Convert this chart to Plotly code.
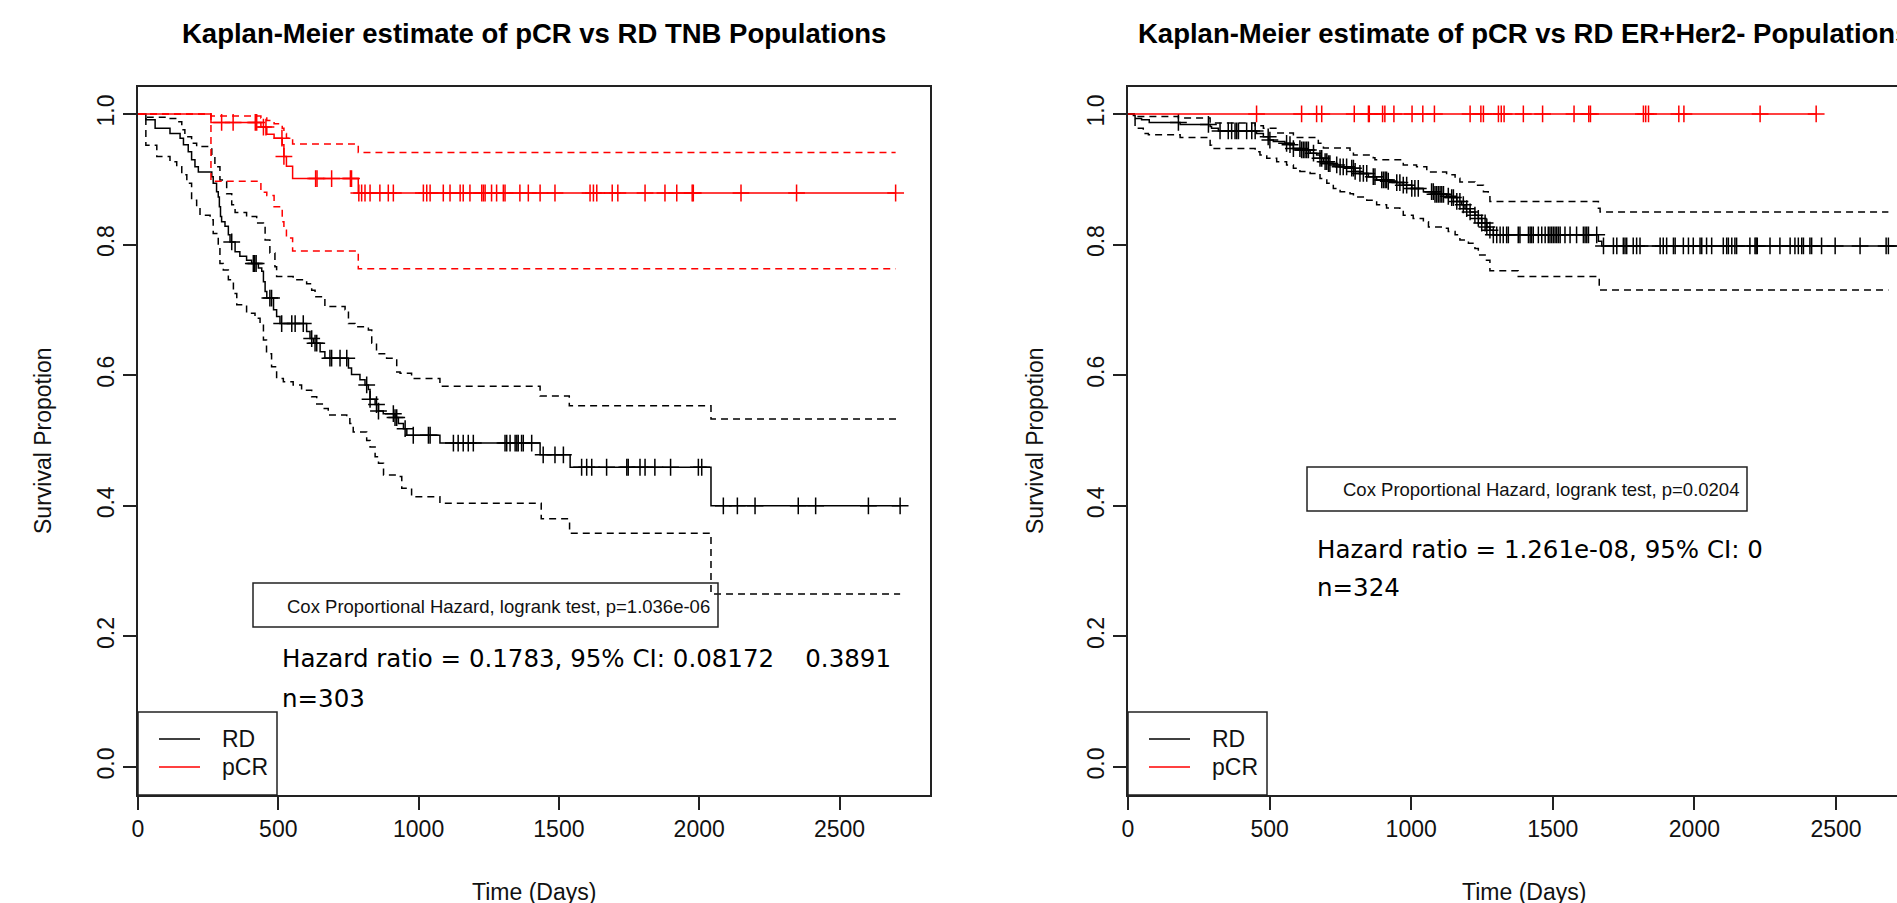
import numpy as np
import plotly.graph_objects as go

W, H = 1897, 903

# ---------------- TNB panel (left) ----------------
tnb_rd_t = [28, 61, 114, 150, 162, 179, 191, 203, 215, 263, 268, 280, 286, 290, 294, 298, 310, 322, 328,
            346, 363, 387, 405, 429, 441, 447, 453, 459, 483, 494, 506, 601, 613, 625, 649, 666, 750, 761,
            791, 809, 821, 827, 845, 857, 874, 916, 928, 946, 958, 1076, 1433, 1540, 2042]
tnb_rd_s = [0.991, 0.978, 0.970, 0.963, 0.953, 0.942, 0.930, 0.919, 0.911, 0.904, 0.894, 0.881, 0.873,
            0.858, 0.843, 0.835, 0.828, 0.815, 0.804, 0.789, 0.782, 0.776, 0.771, 0.764, 0.759, 0.743,
            0.728, 0.718, 0.700, 0.690, 0.679, 0.667, 0.656, 0.649, 0.636, 0.626, 0.611, 0.601, 0.593,
            0.585, 0.578, 0.563, 0.555, 0.545, 0.541, 0.535, 0.526, 0.518, 0.508, 0.496, 0.478, 0.459, 0.400]
tnb_rd_end = 2716
tnb_rd_up_t = [31, 102, 138, 156, 167, 191, 209, 263, 274, 292, 316, 334, 346, 387, 423, 447, 453, 470,
               488, 494, 553, 601, 619, 631, 666, 738, 750, 773, 821, 833, 850, 886, 922, 934, 975, 1076,
               1433, 1537, 2042]
tnb_rd_up_s = [0.995, 0.993, 0.988, 0.976, 0.965, 0.955, 0.950, 0.937, 0.919, 0.899, 0.878, 0.861, 0.849,
               0.843, 0.833, 0.828, 0.807, 0.787, 0.766, 0.751, 0.746, 0.740, 0.730, 0.720, 0.705, 0.700,
               0.679, 0.674, 0.669, 0.649, 0.633, 0.626, 0.605, 0.603, 0.595, 0.583, 0.568, 0.553, 0.533]
tnb_rd_lo_t = [28, 67, 114, 138, 156, 174, 191, 209, 221, 257, 268, 286, 292, 304, 322, 340, 352, 387, 417,
               435, 447, 458, 476, 494, 518, 553, 583, 619, 637, 660, 678, 744, 755, 767, 815, 827, 845, 857,
               875, 922, 940, 975, 1076, 1437, 1538, 2042]
tnb_rd_lo_s = [0.952, 0.935, 0.927, 0.919, 0.907, 0.894, 0.868, 0.858, 0.845, 0.838, 0.817, 0.797, 0.771,
               0.761, 0.746, 0.725, 0.708, 0.695, 0.687, 0.679, 0.654, 0.633, 0.613, 0.595, 0.590, 0.585,
               0.577, 0.567, 0.556, 0.549, 0.539, 0.536, 0.526, 0.513, 0.500, 0.490, 0.475, 0.465, 0.447,
               0.445, 0.427, 0.414, 0.404, 0.380, 0.358, 0.265]
tnb_rd_cens = [334, 411, 416, 421, 470, 476, 512, 548, 560, 589, 619, 631, 637, 684, 690, 720, 744, 815, 827,
               850, 857, 910, 916, 922, 952, 981, 1035, 1041, 1124, 1141, 1159, 1177, 1195, 1308, 1314, 1326,
               1344, 1350, 1355, 1367, 1373, 1403, 1444, 1486, 1516, 1581, 1599, 1617, 1670, 1742, 1747,
               1789, 1807, 1842, 1898, 1997, 2009, 2086, 2136, 2199, 2353, 2415, 2603, 2716]

tnb_pcr_t = [260, 438, 459, 485, 514, 520, 529, 551, 785]
tnb_pcr_s = [0.987, 0.980, 0.969, 0.963, 0.953, 0.935, 0.920, 0.901, 0.879]
tnb_pcr_up_s = [0.997, 0.994, 0.990, 0.985, 0.978, 0.970, 0.963, 0.954, 0.941]
tnb_pcr_lo_s = [0.897, 0.880, 0.875, 0.858, 0.835, 0.822, 0.810, 0.790, 0.763]
tnb_pcr_end = 2700
tnb_pcr_cens = [298, 339, 418, 423, 447, 456, 513, 520, 633, 638, 690, 757, 761, 787, 797, 809, 827, 862, 892,
                910, 1017, 1029, 1041, 1088, 1112, 1148, 1159, 1183, 1225, 1231, 1237, 1260, 1278, 1302, 1308,
                1361, 1391, 1433, 1486, 1611, 1623, 1635, 1690, 1710, 1807, 1878, 1920, 1975, 1979, 2149,
                2347, 2700]

# ---------------- ER+Her2- panel (right) ----------------
er_rd_t = [19, 25, 48, 75, 184, 290, 295, 319, 454, 478, 496, 513, 554, 572, 584, 613, 643, 666, 678, 690,
           708, 725, 749, 790, 802, 819, 849, 878, 919, 949, 972, 1002, 1043, 1084, 1125, 1143, 1161, 1178,
           1190, 1208, 1225, 1237, 1249, 1267, 1278, 1290, 1661, 1673]
er_rd_s = [0.9975, 0.993, 0.991, 0.987, 0.984, 0.981, 0.978, 0.974, 0.970, 0.965, 0.960, 0.958, 0.955, 0.953,
           0.947, 0.945, 0.940, 0.937, 0.932, 0.927, 0.924, 0.922, 0.919, 0.917, 0.912, 0.909, 0.904, 0.899,
           0.897, 0.895, 0.891, 0.886, 0.881, 0.877, 0.874, 0.872, 0.866, 0.861, 0.855, 0.850, 0.845, 0.840,
           0.833, 0.827, 0.822, 0.815, 0.805, 0.798]
er_rd_end = 2740
er_rd_up_t = [25, 178, 290, 449, 478, 525, 584, 672, 690, 784, 796, 866, 872, 966, 972, 1019, 1055, 1125,
              1155, 1172, 1225, 1255, 1272, 1278, 1661, 1667]
er_rd_up_s = [0.996, 0.994, 0.986, 0.982, 0.978, 0.971, 0.964, 0.955, 0.948, 0.942, 0.937, 0.933, 0.930,
              0.926, 0.922, 0.919, 0.911, 0.907, 0.9015, 0.896, 0.891, 0.881, 0.876, 0.866, 0.8555, 0.850]
er_rd_lo_t = [25, 54, 72, 184, 290, 295, 449, 466, 490, 525, 560, 584, 607, 643, 678, 702, 725, 749, 784,
              796, 843, 878, 913, 960, 972, 1007, 1043, 1061, 1114, 1131, 1155, 1172, 1202, 1225, 1237, 1261,
              1278, 1378, 1664]
er_rd_lo_s = [0.978, 0.970, 0.968, 0.964, 0.952, 0.947, 0.942, 0.937, 0.932, 0.927, 0.922, 0.917, 0.912,
              0.909, 0.901, 0.894, 0.886, 0.881, 0.878, 0.873, 0.868, 0.861, 0.856, 0.853, 0.845, 0.840,
              0.835, 0.827, 0.825, 0.820, 0.815, 0.807, 0.802, 0.794, 0.784, 0.776, 0.760, 0.751, 0.7305]
er_rd_ci_end = 2685
er_rd_cens = [178, 284, 325, 354, 366, 378, 384, 390, 419, 437, 449, 495, 501, 560, 572, 584, 607, 613, 619,
              625, 631, 637, 655, 678, 684, 696, 702, 708, 713, 737, 749, 760, 772, 790, 796, 802, 819, 831,
              843, 866, 872, 896, 902, 908, 913, 919, 949, 960, 972, 984, 1002, 1013, 1025, 1072, 1078, 1084,
              1090, 1096, 1102, 1108, 1114, 1131, 1143, 1149, 1161, 1172, 1184, 1196, 1208, 1225, 1237, 1249,
              1261, 1267, 1278, 1290, 1302, 1314, 1325, 1337, 1343, 1378, 1384, 1414, 1420, 1425, 1431, 1449,
              1461, 1473, 1484, 1490, 1496, 1502, 1508, 1514, 1520, 1526, 1543, 1561, 1584, 1608, 1614, 1620,
              1626, 1655, 1679, 1714, 1726, 1749, 1755, 1761, 1784, 1796, 1808, 1879, 1890, 1902, 1926, 1932,
              1961, 1979, 1996, 2020, 2026, 2043, 2061, 2102, 2114, 2120, 2132, 2143, 2149, 2196, 2214, 2218,
              2222, 2267, 2302, 2338, 2355, 2367, 2379, 2385, 2408, 2414, 2449, 2497, 2585, 2677, 2685]

er_pcr_end = 2430
er_pcr_cens = [454, 613, 666, 684, 799, 849, 852, 899, 907, 939, 1003, 1041, 1082, 1208, 1246, 1255, 1308,
               1318, 1328, 1396, 1464, 1575, 1627, 1633, 1820, 1828, 1838, 1945, 1963, 2232, 2430]

# ---------------- labels ----------------
titles = ["Kaplan-Meier estimate of pCR vs RD TNB Populations",
          "Kaplan-Meier estimate of pCR vs RD ER+Her2- Populations"]
cox_texts = ["Cox Proportional Hazard, logrank test, p=1.036e-06",
             "Cox Proportional Hazard, logrank test, p=0.0204"]
hr_texts = ["Hazard ratio = 0.1783, 95% CI: 0.08172\u00a0\u00a0\u00a0\u00a00.3891",
            "Hazard ratio = 1.261e-08, 95% CI: 0"]
n_texts = ["n=303", "n=324"]
group_names = ["RD", "pCR"]
x_ticks = [0, 500, 1000, 1500, 2000, 2500]
y_ticks = [0.0, 0.2, 0.4, 0.6, 0.8, 1.0]
y_title = "Survival Propotion"
x_title = "Time (Days)"

RED = "#FF0000"
BLK = "#000000"
AX = "#222222"
ARIAL = "Liberation Sans, Arial, sans-serif"


def PX(x):
    return x / W


def PY(y):
    return 1 - y / H


def step(times, vals, end):
    return [0] + list(times) + [end], [1.0] + list(vals) + [vals[-1]]


def at(times, vals, cens):
    t = np.asarray(times)
    v = np.asarray(vals)
    idx = np.searchsorted(t, np.asarray(cens), side="right") - 1
    return np.where(idx >= 0, v[np.clip(idx, 0, None)], 1.0)


fig = go.Figure()


def add_curve(times, vals, end, color, dash, xa, ya, width=1.5):
    x, y = step(times, vals, end)
    fig.add_trace(go.Scatter(x=x, y=y, mode="lines", line_shape="hv",
                             line=dict(color=color, width=width, dash=dash),
                             xaxis=xa, yaxis=ya, showlegend=False, hoverinfo="skip"))


def add_cens(times, vals, cens, color, xa, ya):
    fig.add_trace(go.Scatter(x=cens, y=at(times, vals, cens), mode="markers",
                             marker=dict(symbol="cross-thin", size=12, color=color,
                                         line=dict(width=1.5, color=color)),
                             xaxis=xa, yaxis=ya, showlegend=False, hoverinfo="skip"))


DASH = "7px,5px"
# left panel
add_curve(tnb_rd_up_t, tnb_rd_up_s, tnb_rd_end, BLK, DASH, "x", "y")
add_curve(tnb_rd_lo_t, tnb_rd_lo_s, tnb_rd_end, BLK, DASH, "x", "y")
add_curve(tnb_rd_t, tnb_rd_s, tnb_rd_end, BLK, "solid", "x", "y")
add_cens(tnb_rd_t, tnb_rd_s, tnb_rd_cens, BLK, "x", "y")
add_curve(tnb_pcr_t, tnb_pcr_up_s, tnb_pcr_end, RED, DASH, "x", "y")
add_curve(tnb_pcr_t, tnb_pcr_lo_s, tnb_pcr_end, RED, DASH, "x", "y")
add_curve(tnb_pcr_t, tnb_pcr_s, tnb_pcr_end, RED, "solid", "x", "y")
add_cens(tnb_pcr_t, tnb_pcr_s, tnb_pcr_cens, RED, "x", "y")

# right panel
add_curve(er_rd_up_t, er_rd_up_s, er_rd_ci_end, BLK, DASH, "x2", "y2")
add_curve(er_rd_lo_t, er_rd_lo_s, er_rd_ci_end, BLK, DASH, "x2", "y2")
add_curve(er_rd_t, er_rd_s, er_rd_end, BLK, "solid", "x2", "y2")
add_cens(er_rd_t, er_rd_s, er_rd_cens, BLK, "x2", "y2")
fig.add_trace(go.Scatter(x=[0, er_pcr_end], y=[1.0, 1.0], mode="lines",
                         line=dict(color=RED, width=1.5), xaxis="x2", yaxis="y2",
                         showlegend=False, hoverinfo="skip"))
add_cens([0], [1.0], er_pcr_cens, RED, "x2", "y2")

tickfont = dict(family=ARIAL, size=23, color="#111111")
xcommon = dict(tickvals=x_ticks, ticktext=[str(v) for v in x_ticks], ticks="outside", ticklen=13,
               tickwidth=1.5, tickcolor=AX, showline=True, linecolor=AX, linewidth=1.5,
               showgrid=False, zeroline=False, tickfont=tickfont, fixedrange=True, automargin=False)
ycommon = dict(tickvals=y_ticks, ticktext=["%.1f" % v for v in y_ticks], ticks="outside", ticklen=13,
               tickwidth=1.5, tickcolor=AX, showline=True, linecolor=AX, linewidth=1.5,
               showgrid=False, zeroline=False, tickfont=tickfont, tickangle=-90,
               range=[-0.0429, 1.0413], domain=[PY(795), PY(87)], fixedrange=True, automargin=False)

fig.update_layout(
    width=W, height=H, margin=dict(l=0, r=0, t=0, b=0, pad=0, autoexpand=False),
    paper_bgcolor="white", plot_bgcolor="white", showlegend=False,
    xaxis=dict(xcommon, domain=[PX(138), PX(930)], range=[0, 2822.5], anchor="y", mirror=True),
    yaxis=dict(ycommon, anchor="x", mirror=True),
    xaxis2=dict(xcommon, domain=[PX(1128), 1.0], range=[0, 2715.4], anchor="y2", mirror=True),
    yaxis2=dict(ycommon, anchor="x2", mirror=False),
)

ann = []
shapes = []
for i, off in enumerate([0, 990]):
    ann.append(dict(text="<b>%s</b>" % titles[i], x=PX(534 + off), y=PY(33), xref="paper", yref="paper",
                    xanchor="center", yanchor="middle", showarrow=False,
                    font=dict(family=ARIAL, size=27.5, color="#000")))
    ann.append(dict(text=y_title, x=PX(43 + (0 if i == 0 else 992)), y=PY(441), xref="paper", yref="paper",
                    textangle=-90, xanchor="center", yanchor="middle", showarrow=False,
                    font=dict(family=ARIAL, size=23, color="#111")))
    ann.append(dict(text=x_title, x=PX(534 + off), y=PY(877), xref="paper", yref="paper",
                    xanchor="center", yanchor="top", showarrow=False,
                    font=dict(family=ARIAL, size=23, color="#111")))
    # legend box
    shapes.append(dict(type="rect", xref="paper", yref="paper", x0=PX(138 + off), x1=PX(277 + off),
                       y0=PY(795), y1=PY(712), line=dict(color=AX, width=1.5)))
    for j, (nm, col, yy) in enumerate(zip(group_names, [BLK, RED], [739, 767])):
        shapes.append(dict(type="line", xref="paper", yref="paper", x0=PX(159 + off), x1=PX(200 + off),
                           y0=PY(yy), y1=PY(yy), line=dict(color=col, width=1.5)))
        ann.append(dict(text=nm, x=PX(220 + off), y=PY(yy), xref="paper", yref="paper",
                        xanchor="left", yanchor="middle", showarrow=False,
                        font=dict(family=ARIAL, size=23, color="#111")))

# Cox boxes
cox_box = [(253, 718, 583, 627, 285, 606), (1307, 1747, 467, 511, 1341, 490)]
for i, (bx0, bx1, by0, by1, tx, ty) in enumerate(cox_box):
    shapes.append(dict(type="rect", xref="paper", yref="paper", x0=PX(bx0), x1=PX(bx1),
                       y0=PY(by1), y1=PY(by0), line=dict(color=AX, width=1.5)))
    ann.append(dict(text=cox_texts[i], x=PX(tx), y=PY(ty), xref="paper", yref="paper",
                    xanchor="left", yanchor="middle", showarrow=False,
                    font=dict(family=ARIAL, size=18.5, color="#111")))

hr_pos = [(280, 658, 698), (1315, 549, 587)]
for i, (hx, hy, ny) in enumerate(hr_pos):
    ann.append(dict(text=hr_texts[i], x=PX(hx), y=PY(hy), xref="paper", yref="paper",
                    xanchor="left", yanchor="middle", showarrow=False,
                    font=dict(family="DejaVu Sans, sans-serif", size=24.5, color="#000")))
    ann.append(dict(text=n_texts[i], x=PX(hx), y=PY(ny), xref="paper", yref="paper",
                    xanchor="left", yanchor="middle", showarrow=False,
                    font=dict(family="DejaVu Sans, sans-serif", size=24.5, color="#000")))

fig.update_layout(annotations=ann, shapes=shapes)

html = fig.to_html(full_html=True, include_plotlyjs=True, config={"displayModeBar": False})
html = html.replace("<head>", "<head><style>html,body{margin:0;padding:0;overflow:hidden;}</style>", 1)
with open("out.html", "w", encoding="utf-8") as f:
    f.write(html)
